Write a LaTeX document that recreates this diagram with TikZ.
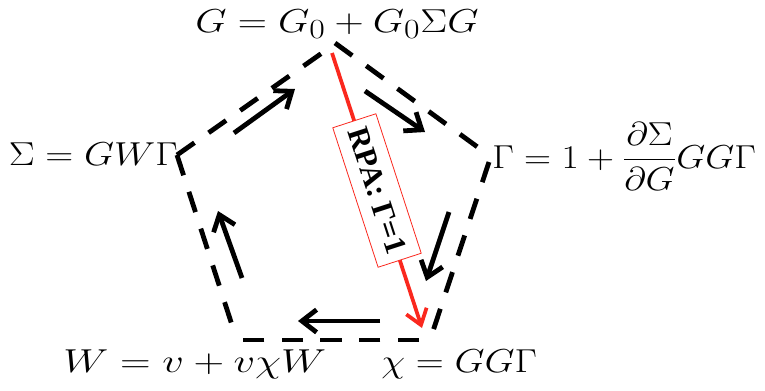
\documentclass[tikz,border=0pt]{standalone}
\usepackage{fontspec}
\usepackage{graphicx}
\newfontfamily\boxfont{Liberation Serif}
\usetikzlibrary{arrows.meta}
\definecolor{rpared}{RGB}{250,40,30}
\begin{document}
\begin{tikzpicture}[x=0.75pt,y=-0.75pt]
\useasboundingbox (0,0) rectangle (765,390);
\tikzset{
  edge/.style={line width=3.6pt, dash pattern=on 16pt off 13pt},
  flow/.style={line width=3.6pt, -{Straight Barb[length=11pt,width=17pt]}},
  eq/.style={inner sep=0pt, font=\fontsize{28}{34}\selectfont},
  rpaline/.style={draw=rpared, line width=2.8pt, -{Straight Barb[length=11pt,width=16pt]}},
  rpabox/.style={draw=rpared, line width=0.6pt, fill=white, text=black, inner sep=2pt,
    minimum width=110pt, minimum height=34pt, rotate=-72,
    font=\boxfont\bfseries\fontsize{23}{27}\selectfont}
}
% equations
\node[eq, anchor=base] (g) at (337,32) {\scalebox{1.22}[1]{$G=G_0+G_0\Sigma G$}};
\node[eq, anchor=base east] (s) at (178,165) {\scalebox{1.17}[1]{$\Sigma=GW\Gamma$}};
\node[eq, anchor=base west] (gam) at (492,168) {\scalebox{1.13}[1]{$\displaystyle\Gamma=1+\frac{\partial\Sigma}{\partial G}GG\Gamma$}};
\node[eq, anchor=base west] (w) at (63,372) {\scalebox{1.28}[1]{$W=v+v\chi W$}};
\node[eq, anchor=base west] (chi) at (381,372) {\scalebox{1.17}[1]{$\chi=GG\Gamma$}};
% pentagon edge end points
\coordinate (L) at (177,155);
\coordinate (Ta) at (322,53);
\coordinate (Tb) at (335,43);
\coordinate (Ra) at (483,151);
\coordinate (Rb) at (489,162);
\coordinate (BRa) at (432,334);
\coordinate (BRb) at (419,340);
\coordinate (BLa) at (238,340);
\coordinate (BLb) at (232,325);
\draw[edge] (L) -- (Ta);
\draw[edge] (Tb) -- (Ra);
\draw[edge] (Rb) -- (BRa);
\draw[edge] (BRb) -- (BLa);
\draw[edge] (L) -- (BLb);
% flow arrows
\coordinate (a1) at (234,133); \coordinate (b1) at (295,89);
\coordinate (a2) at (365,91); \coordinate (b2) at (425,132);
\coordinate (a3) at (449,212); \coordinate (b3) at (426,281);
\coordinate (a4) at (380,321); \coordinate (b4) at (298,321);
\coordinate (a5) at (242,278); \coordinate (b5) at (218,211);
\draw[flow] (a1) -- (b1);
\draw[flow] (a2) -- (b2);
\draw[flow] (a3) -- (b3);
\draw[flow] (a4) -- (b4);
\draw[flow] (a5) -- (b5);
% RPA arrow
\coordinate (r1) at (332,53);
\coordinate (r2) at (422,328);
\draw[rpaline] (r1) -- node[rpabox] (rpa) {RPA: Γ=1} (r2);
\end{tikzpicture}
\end{document}
